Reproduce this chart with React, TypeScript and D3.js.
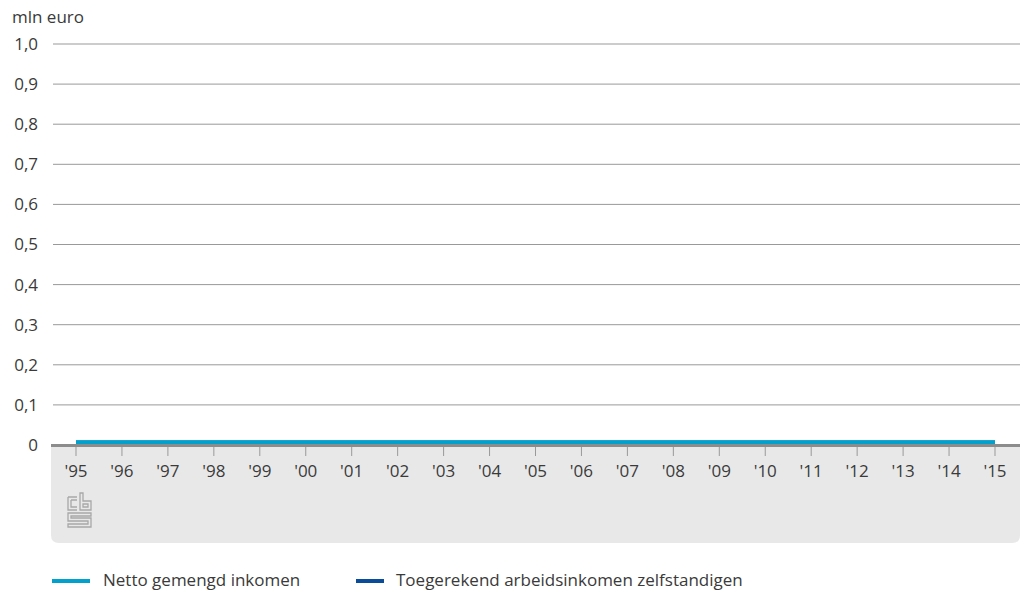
import React from 'react';
import * as d3 from 'd3';

const years = ['95','96','97','98','99','00','01','02','03','04','05','06','07','08','09','10','11','12','13','14','15'];
const nettoGemengd = [0.007,0.007,0.007,0.007,0.007,0.007,0.007,0.007,0.007,0.007,0.007,0.007,0.007,0.007,0.007,0.007,0.007,0.007,0.007,0.007,0.007];
const toegerekend = [0.006,0.006,0.006,0.006,0.006,0.006,0.006,0.006,0.006,0.006,0.006,0.006,0.006,0.006,0.006,0.006,0.006,0.006,0.006,0.006,0.006];
const yTicks = [0, 0.1, 0.2, 0.3, 0.4, 0.5, 0.6, 0.7, 0.8, 0.9, 1.0];

const W = 1020;
const H = 597;
const font = "'Open Sans', 'Noto Sans', sans-serif";
const lightBlue = '#00a1cd';
const darkBlue = '#0a4b9a';
const textColor = '#3a3a3a';
const fs = 17;

export default function App() {
  const x = d3.scalePoint<string>().domain(years).range([76, 995]);
  const y = d3.scaleLinear().domain([0, 1]).range([445, 44]);

  const line = d3
    .line<number>()
    .x((_, i) => x(years[i])!)
    .y((d) => y(d));

  const fmt = (v: number) => (v === 0 ? '0' : v.toFixed(1).replace('.', ','));

  return (
    <svg width={W} height={H} style={{ position: 'absolute', left: 0, top: 0, fontFamily: font }}>
      <rect width={W} height={H} fill="#fff" />
      <text x={12} y={17} dy="0.35em" fontSize={fs} fill={textColor}>mln euro</text>

      {/* grey panel under axis */}
      <path
        d={`M51,445 H${W} V535 Q${W},543 ${W - 8},543 H59 Q51,543 51,535 Z`}
        fill="#e8e8e8"
      />

      {yTicks.map((t) => (
        <g key={t}>
          {t > 0 && (
            <line x1={53} x2={W} y1={y(t)} y2={y(t)} stroke="#999" strokeWidth={1} />
          )}
          <text x={38} y={y(t)} dy="0.35em" textAnchor="end" fontSize={fs} fill={textColor}>
            {fmt(t)}
          </text>
        </g>
      ))}

      {years.map((yr) => (
        <g key={yr}>
          <line x1={x(yr)} x2={x(yr)} y1={446} y2={456} stroke="#999" strokeWidth={1} />
          <text x={x(yr)} y={471} dy="0.35em" textAnchor="middle" fontSize={fs} fill={textColor}>
            {`'${yr}`}
          </text>
        </g>
      ))}

      <path d={line(toegerekend)!} fill="none" stroke={darkBlue} strokeWidth={4} />
      <path d={line(nettoGemengd)!} fill="none" stroke={lightBlue} strokeWidth={4} />

      <line x1={51} x2={W} y1={445.5} y2={445.5} stroke="#8c8c8c" strokeWidth={3} />

      {/* cbs logo */}
      <g fill="none" stroke="#a8a8a8" strokeWidth={1.3}>
        <path d="M68,497 V510 H77 M68,497 H77 M71,500 H77 M71,500 V507 H77" />
        <path d="M80,493 V510 H91 V501 H83 V493 Z M83,504 H88 V507 H83 Z" />
        <path d="M91,513 H68 V521 H88 V524 H68 V527 H91 V518 H71 V516 H91 Z" />
      </g>

      {/* legend */}
      <line x1={52} x2={90} y1={581} y2={581} stroke={lightBlue} strokeWidth={4} />
      <text x={103} y={580} dy="0.35em" fontSize={fs} fill={textColor}>Netto gemengd inkomen</text>
      <line x1={356} x2={384} y1={581} y2={581} stroke={darkBlue} strokeWidth={4} />
      <text x={396} y={580} dy="0.35em" fontSize={fs} fill={textColor}>Toegerekend arbeidsinkomen zelfstandigen</text>
    </svg>
  );
}
